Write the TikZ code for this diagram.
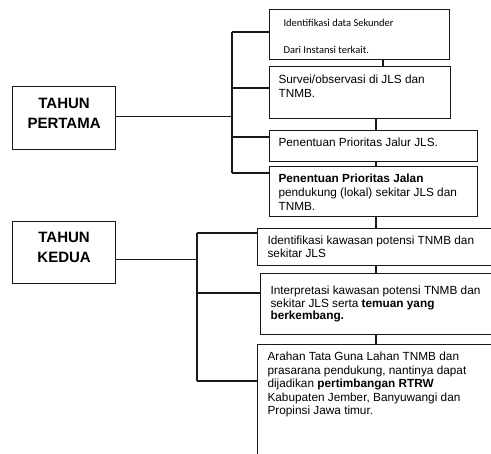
\documentclass[tikz,border=0pt]{standalone}
\usepackage{fontspec}
\setmainfont{Liberation Sans}
\newfontfamily\calfont{Carlito}
\tikzset{
  box/.style={draw=black!90, line width=1.1pt, anchor=north west, inner ysep=0pt},
  titlebox/.style={box, line width=1.2pt, inner xsep=0pt},
  conn/.style={draw=black!90, line width=1.1pt},
}
% #1 width, #2 height, #3 baselineskip, #4 top space, #5 text
\newcommand\bxtext[5]{\parbox[c][#2][t]{#1}{\raggedright\fontsize{11.8}{#3}\selectfont\vspace*{#4}\strut #5}}
\newcommand\ttltext[4]{\parbox[c][#2][t]{#1}{\centering\fontsize{15}{20}\selectfont\bfseries\vspace*{#3}\strut #4}}
\begin{document}
\begin{tikzpicture}[x=1pt,y=-1pt]
\useasboundingbox (0,0) rectangle (491,454);
\clip (0,0) rectangle (491,454);

% title boxes
\node[titlebox] (t1) at (12,86) {\ttltext{103pt}{63pt}{8.4pt}{TAHUN\\PERTAMA}};
\node[titlebox] (t2) at (12,221) {\ttltext{103pt}{62pt}{7.4pt}{TAHUN\\KEDUA}};

% first-year boxes
\node[box, inner xsep=14pt] (b1) at (269,9)
  {\parbox[c][50pt][t]{152pt}{\raggedright\calfont\fontsize{10.5}{13.5}\selectfont\vspace*{7.95pt}\strut Identifikasi data Sekunder\\[13.5pt]Dari Instansi terkait.}};
\node[box, inner xsep=9pt] (b2) at (269,66)
  {\bxtext{163pt}{52pt}{14pt}{7.4pt}{Survei/observasi di JLS dan\\TNMB.}};
\node[box, inner xsep=9pt] (b3) at (269,130)
  {\bxtext{190pt}{31pt}{14pt}{6.4pt}{Penentuan Prioritas Jalur JLS.}};
\node[box, inner xsep=9pt] (b4) at (269,166)
  {\bxtext{190pt}{50pt}{14pt}{6.4pt}{\textbf{Penentuan Prioritas Jalan}\\pendukung (lokal) sekitar JLS dan\\TNMB.}};

% second-year boxes (cut at the page edge)
\node[box, inner xsep=10pt] (b5) at (257,228)
  {\bxtext{243pt}{37pt}{13pt}{7.1pt}{Identifikasi kawasan potensi TNMB dan\\sekitar JLS}};
\node[box, inner xsep=10pt] (b6) at (260,273)
  {\bxtext{240pt}{61pt}{12.5pt}{12.3pt}{Interpretasi kawasan potensi TNMB dan\\sekitar JLS serta \textbf{temuan yang}\\\textbf{berkembang.}}};
\node[box, inner xsep=10pt] (b7) at (257,344)
  {\bxtext{243pt}{130pt}{13.5pt}{6.8pt}{Arahan Tata Guna Lahan TNMB dan\\prasarana pendukung, nantinya dapat\\dijadikan \textbf{pertimbangan RTRW}\\Kabupaten Jember, Banyuwangi dan\\Propinsi Jawa timur.}};

% bracket coordinates
\coordinate (k1) at (232,32);
\coordinate (k2) at (232,88);
\coordinate (k3) at (232,137);
\coordinate (k4) at (232,173);
\coordinate (k5) at (197,233);
\coordinate (k6) at (197,293);
\coordinate (k7) at (197,381);
\coordinate (cx1) at (383,0);
\coordinate (cx2) at (376,0);

% first-year bracket
\draw[conn] ([yshift=1.5pt]t1.east) -- ([yshift=1.5pt]t1.east -| k1);
\draw[conn] (k1) -- (k4);
\draw[conn] (k1) -- (k1 -| b1.west);
\draw[conn] (k2) -- (k2 -| b2.west);
\draw[conn] (k3) -- (k3 -| b3.west);
\draw[conn] (k4) -- (k4 -| b4.west);

% second-year bracket
\draw[conn] ([yshift=-7pt]t2.east) -- ([yshift=-7pt]t2.east -| k5);
\draw[conn] (k5) -- (k7);
\draw[conn] (k5) -- (k5 -| b5.west);
\draw[conn] (k6) -- (k6 -| b6.west);
\draw[conn] (k7) -- (k7 -| b7.west);

% chain between boxes
\draw[conn] (b1.south -| cx1) -- (b2.north -| cx1);
\draw[conn] (b2.south -| cx2) -- (b3.north -| cx2);
\draw[conn] (b3.south -| cx2) -- (b4.north -| cx2);
\draw[conn] (b4.south -| cx2) -- (b5.north -| cx2);
\draw[conn] (b5.south -| cx2) -- (b6.north -| cx2);
\draw[conn] (b6.south -| cx2) -- (b7.north -| cx2);
\end{tikzpicture}
\end{document}
